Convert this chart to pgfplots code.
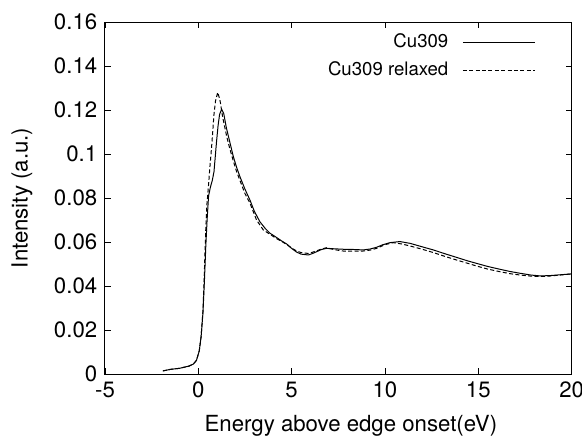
\documentclass[border=0pt]{standalone}
\usepackage{pgfplots}
\pgfplotsset{compat=1.18}
\usepackage{pgfplotstable}
\usepackage{fontspec}
\setmainfont{TeX Gyre Heros}

\pgfplotstableread{
x y
-1.9 0.0014
-1.5 0.0021
-1.0 0.0026
-0.5 0.0036
-0.27 0.0045
-0.1 0.0062
0.05 0.0105
0.15 0.017
0.25 0.028
0.33 0.043
0.4 0.058
0.47 0.070
0.55 0.081
0.65 0.085
0.75 0.088
0.84 0.092
0.92 0.100
0.98 0.106
1.06 0.113
1.14 0.118
1.25 0.1203
1.36 0.1185
1.5 0.112
1.7 0.105
1.87 0.099
2.05 0.094
2.23 0.0897
2.5 0.084
2.77 0.079
3.0 0.074
3.3 0.0692
3.6 0.066
3.84 0.064
4.2 0.0620
4.46 0.0605
4.75 0.059
5.0 0.0571
5.25 0.0555
5.5 0.0545
5.89 0.0541
6.1 0.0547
6.34 0.0556
6.6 0.0566
6.87 0.0571
7.3 0.0569
7.77 0.0567
8.3 0.0566
8.84 0.0564
9.2 0.0568
9.55 0.0576
9.9 0.0588
10.27 0.0597
10.8 0.0602
11.34 0.0594
12.0 0.0578
12.59 0.0564
13.2 0.0547
13.84 0.053
14.4 0.0515
14.9 0.0503
15.5 0.0489
16.16 0.0476
16.7 0.0466
17.23 0.0458
17.8 0.0450
18.3 0.0446
18.8 0.0447
19.4 0.0451
20.0 0.0455
}\cuplain

\pgfplotstableread{
x y
-1.9 0.0014
-1.5 0.0021
-1.0 0.0026
-0.5 0.0036
-0.27 0.0045
-0.1 0.0062
0.05 0.0105
0.15 0.017
0.25 0.029
0.33 0.048
0.4 0.066
0.45 0.076
0.54 0.085
0.62 0.094
0.71 0.103
0.78 0.111
0.84 0.118
0.92 0.124
1.04 0.128
1.16 0.1245
1.3 0.117
1.52 0.108
1.7 0.102
1.87 0.097
2.05 0.092
2.23 0.088
2.5 0.082
2.77 0.0776
3.12 0.070
3.48 0.0655
3.84 0.0635
4.2 0.0615
4.46 0.0603
4.75 0.0588
5.0 0.0572
5.25 0.0560
5.5 0.0552
5.89 0.0548
6.1 0.0553
6.34 0.056
6.6 0.0568
6.87 0.0574
7.3 0.0565
7.77 0.0559
8.3 0.0558
8.84 0.0559
9.2 0.0563
9.55 0.0571
10.0 0.0588
10.45 0.0597
10.9 0.0591
11.34 0.0582
12.0 0.0567
12.59 0.0552
13.2 0.0535
13.84 0.0518
14.4 0.0504
14.9 0.0491
15.5 0.0477
16.16 0.0465
16.7 0.0456
17.23 0.045
17.8 0.0445
18.3 0.0443
18.8 0.0445
19.4 0.045
20.0 0.0455
}\curelaxed

\begin{document}
\fontsize{11.1bp}{13bp}\selectfont
\begin{tikzpicture}
  \begin{axis}[
      width=233.3bp, height=176bp, scale only axis,
      xmin=-5, xmax=20, ymin=0, ymax=0.16,
      xtick={-5,0,...,20},
      ytick={0,0.02,...,0.16},
      scaled y ticks=false,
      yticklabel style={/pgf/number format/fixed, /pgf/number format/precision=2},
      xticklabel style={anchor=base, yshift=-11.8bp},
      /pgf/number format/assume math mode=true,
      tick pos=both, tick align=inside,
      major tick length=3bp,
      tick style={black, line width=0.4pt},
      axis line style={line width=0.5pt},
      xlabel={Energy above edge onset(eV)},
      ylabel={Intensity (a.u.)},
      xlabel style={at={(axis description cs:0.527,-0.163)}, anchor=base},
      ylabel style={at={(axis description cs:-0.178,0.5)}, anchor=center},
      legend style={draw=none, fill=none, inner sep=0pt,
        at={(axis description cs:0.923,0.983)}, anchor=north east,
        row sep=0pt, column sep=4.5bp,
        font=\fontsize{9.3bp}{11bp}\selectfont,
        nodes={text height=7bp, text depth=2bp, inner sep=2.5bp}},
      legend cell align=right,
      legend plot pos=right,
      legend image code/.code={\draw[#1] (0bp,0bp) -- (36bp,0bp);},
    ]
    \addplot[black, line width=0.5pt] table {\cuplain};
    \addlegendentry{Cu309}
    \addplot[black, line width=0.5pt, dash pattern=on 2bp off 1.2bp] table {\curelaxed};
    \addlegendentry{Cu309 relaxed}
  \end{axis}
  \pgfresetboundingbox
  \path (current axis.south west) +(-52.5bp,-31.5bp) coordinate (bl);
  \path (current axis.north east) +(5.2bp,11bp) coordinate (tr);
  \useasboundingbox (bl) rectangle (tr);
\end{tikzpicture}
\end{document}
